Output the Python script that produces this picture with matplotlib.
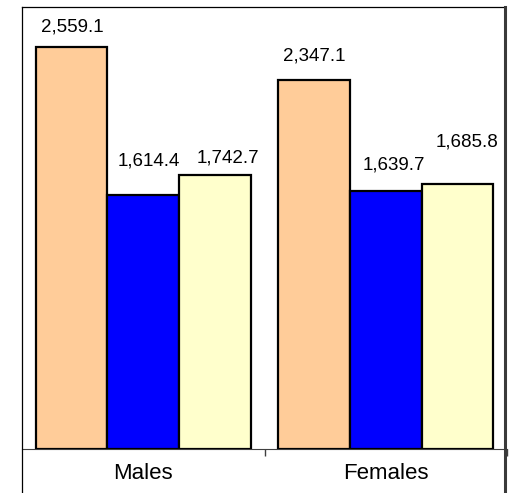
import matplotlib
matplotlib.use("Agg")
import matplotlib.pyplot as plt
from matplotlib.lines import Line2D
import numpy as np

plt.rcParams['font.family'] = ['Liberation Sans', 'DejaVu Sans']

categories = ["Males", "Females"]
series_a = [2559.1, 2347.1]
series_b = [1614.4, 1639.7]
series_c = [1742.7, 1685.8]
value_labels = [["2,559.1", "2,347.1"], ["1,614.4", "1,639.7"], ["1,742.7", "1,685.8"]]

colors = ["#FFCC99", "#0000FF", "#FFFFCC"]
# label offsets in pixels (dx, dy) per series, per category
label_offsets = [[(1, 20), (0, 24)], [(6, 34), (8, 26)], [(13, 17), (10, 42)]]

W, H = 532, 493
fig = plt.figure(figsize=(W / 100, H / 100), dpi=100)
ax = fig.add_axes([22 / W, 43.7 / H, 485 / W, 442 / H])

x = np.arange(len(categories))
width = 0.295
all_series = [series_a, series_b, series_c]
for k, vals in enumerate(all_series):
    pos = x + (k - 1) * width
    ax.bar(pos, vals, width=width, color=colors[k], edgecolor="black",
           linewidth=1.6, zorder=3)
    for i, v in enumerate(vals):
        dx, dy = label_offsets[k][i]
        ax.annotate(value_labels[k][i], xy=(pos[i], v), xytext=(dx, dy),
                    textcoords="offset pixels", ha="center", va="center",
                    fontsize=13.5, color="black")

ax.set_xlim(-0.5, 1.5)
ax.set_ylim(0, 2810)
ax.set_yticks([])
ax.set_xticks([0.5, 1.5])
ax.set_xticklabels([])
ax.tick_params(axis="x", direction="out", length=5, width=1, color="#404040")
for s in ["top", "right", "left"]:
    ax.spines[s].set_visible(False)
ax.spines["bottom"].set_color("#404040")
ax.spines["bottom"].set_linewidth(0.8)

for i, c in enumerate(categories):
    ax.annotate(c, xy=(i, 0), xycoords=("data", "axes fraction"),
                xytext=(0, -24), textcoords="offset pixels",
                ha="center", va="center", fontsize=16, color="black")

# chart border
top_y = 1 - 7.3 / H
fig.add_artist(Line2D([22 / W, 22 / W], [0, top_y], transform=fig.transFigure,
                      color="black", lw=0.9))
fig.add_artist(Line2D([22 / W, 505 / W], [top_y, top_y], transform=fig.transFigure,
                      color="black", lw=0.9))
fig.add_artist(Line2D([505 / W, 505 / W], [0, top_y], transform=fig.transFigure,
                      color="#3a3a3a", lw=2.2))

fig.savefig("out.png", dpi=100)
